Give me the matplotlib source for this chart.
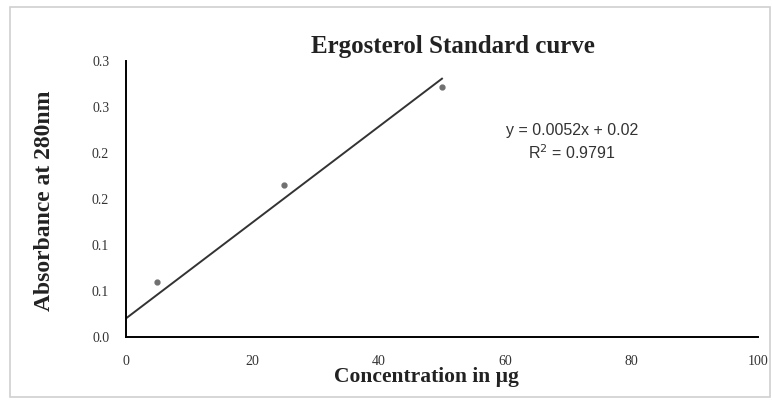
import numpy as np
import matplotlib
matplotlib.use("Agg")
import matplotlib.pyplot as plt
from matplotlib.patches import Rectangle

# data
conc = [0, 5, 25, 50]
absorb = [0.0, 0.06, 0.165, 0.272]
yticks = [0, 0.05, 0.10, 0.15, 0.20, 0.25, 0.30]
ytick_labels = ["0.0", "0.1", "0.1", "0.2", "0.2", "0.3", "0.3"]
xticks = [0, 20, 40, 60, 80, 100]
eq_text = "y = 0.0052x + 0.02\nR$^2$ = 0.9791"

# linear trendline
slope, intercept = np.polyfit(conc, absorb, 1)
xfit = np.array([min(conc), max(conc)])
yfit = slope * xfit + intercept

fig = plt.figure(figsize=(7.72, 4.01), dpi=100)
fig.patches.append(Rectangle((0.013, 0.01), 0.984, 0.972, transform=fig.transFigure,
                             fill=False, edgecolor="#d0d0d0", lw=1.2))
ax = fig.add_axes([0.163, 0.16, 0.819, 0.688])

ax.plot(xfit, yfit, color="#333333", lw=1.4)
ax.plot(conc[1:], absorb[1:], ls="none", marker="o", ms=3.5, color="#707070")

ax.set_xlim(0, 100)
ax.set_ylim(0, 0.3)
ax.set_xticks(xticks)
ax.set_yticks(yticks)
ax.set_yticklabels(ytick_labels)
ax.tick_params(length=0, labelsize=10, colors="#333333")
ax.tick_params(axis="x", pad=13)
ax.tick_params(axis="y", pad=12)
for lab in ax.get_xticklabels() + ax.get_yticklabels():
    lab.set_family("Liberation Serif")

for s in ["top", "right"]:
    ax.spines[s].set_visible(False)
ax.spines["left"].set_linewidth(1.4)
ax.spines["bottom"].set_linewidth(1.4)

fig.text(0.587, 0.885, "Ergosterol Standard curve", ha="center", va="center",
         fontsize=18, fontweight="bold", family="Liberation Serif", color="#222222")
fig.text(0.553, 0.06, "Concentration in µg", ha="center", va="center",
         fontsize=15.5, fontweight="bold", family="Liberation Serif", color="#222222")
fig.text(0.057, 0.5, "Absorbance at 280nm", ha="center", va="center", rotation=90,
         fontsize=17, fontweight="bold", family="Liberation Serif", color="#222222")
fig.text(0.741, 0.645, eq_text, ha="center", va="center", fontsize=11.5,
         family="Liberation Sans", color="#333333", linespacing=1.3)

plt.savefig("out.png", dpi=100)
